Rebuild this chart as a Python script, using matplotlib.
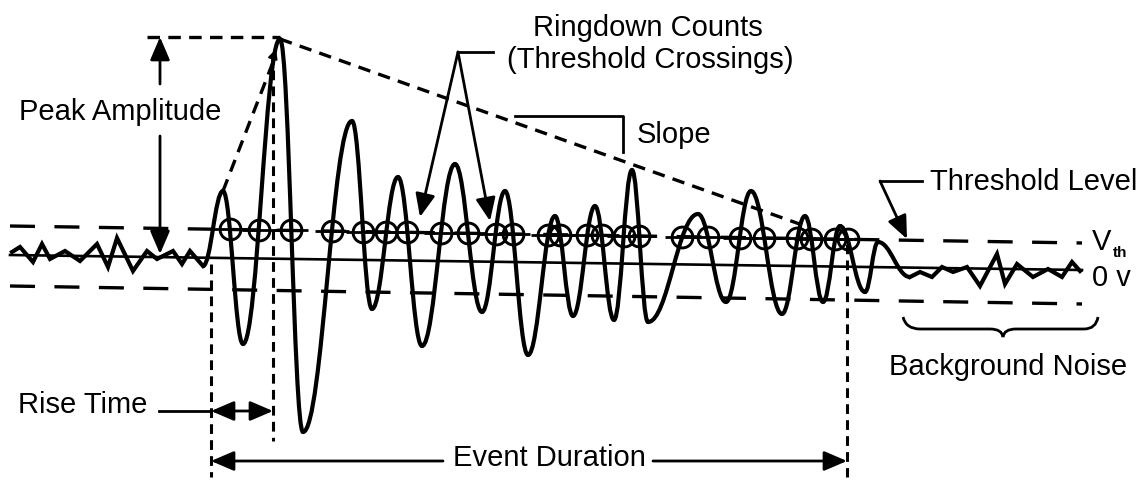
import numpy as np
import matplotlib.pyplot as plt
from matplotlib.path import Path
from matplotlib.patches import PathPatch

plt.rcParams['font.family'] = ['Liberation Sans', 'DejaVu Sans']
plt.rcParams['lines.scale_dashes'] = False

# picture units: time to the right, signal downwards (screen-like)

# background noise before the event (zig-zag)
noise_in_t = [12, 20, 33, 42, 50, 65, 80, 97, 108, 117, 133, 147, 157, 173, 182, 190, 203]
noise_in_v = [253, 248, 263, 245, 260, 252, 262, 245, 268, 239, 272, 252, 260, 252, 265, 252, 267]

# burst: successive peaks and troughs
event_t = [203, 223, 243, 280, 303, 352, 372, 398, 422, 455, 482, 505, 528, 555, 573,
           595, 614, 632, 648, 698, 726, 751, 782, 805, 823, 840, 865, 878, 910]
event_v = [267, 192, 345, 40, 433, 122, 310, 178, 347, 165, 313, 192, 356, 217, 317,
           207, 321, 171, 323, 215, 303, 192, 315, 217, 303, 227, 293, 243, 278]

# background noise after the event
noise_out_t = [910, 920, 932, 942, 953, 967, 980, 997, 1005, 1017, 1033, 1048, 1062, 1072, 1080]
noise_out_v = [278, 273, 278, 268, 273, 268, 287, 255, 285, 265, 278, 270, 278, 263, 272]

# reference levels (left end, right end)
line_t = [10, 1082]
zero_v = [256, 271]
vth_v = [227, 244]
neg_v = [287, 305]

# event markers
t_start = 211
t_peak = 273
t_end = 847
peak_v = 38
slope_end = (808, 228)


def vth_at(t):
    return np.interp(t, line_t, vth_v)


# --- build the burst as cubic curves (flat tangents at each extremum)
k = 0.4
verts = [(event_t[0], event_v[0])]
codes = [Path.MOVETO]
for i in range(len(event_t) - 1):
    t0, v0, t1, v1 = event_t[i], event_v[i], event_t[i + 1], event_v[i + 1]
    dt = t1 - t0
    verts += [(t0 + k * dt, v0), (t1 - k * dt, v1), (t1, v1)]
    codes += [Path.CURVE4] * 3

# threshold crossings on the same curves
cross_t = []
s = np.linspace(0, 1, 600)
for i in range(len(event_t) - 1):
    p0 = np.array(verts[3 * i])
    p1 = np.array(verts[3 * i + 1])
    p2 = np.array(verts[3 * i + 2])
    p3 = np.array(verts[3 * i + 3])
    b = ((1 - s) ** 3)[:, None] * p0 + (3 * (1 - s) ** 2 * s)[:, None] * p1 \
        + (3 * (1 - s) * s ** 2)[:, None] * p2 + (s ** 3)[:, None] * p3
    d = b[:, 1] - vth_at(b[:, 0])
    idx = np.where(np.sign(d[:-1]) != np.sign(d[1:]))[0]
    for j in idx:
        cross_t.append(b[j, 0])
cross_t = np.array(cross_t[1:])   # first rising edge is not counted
cross_v = vth_at(cross_t)

fig = plt.figure(figsize=(11.4, 4.81), dpi=100)
ax = fig.add_axes([0, 0, 1, 1])
ax.set_xlim(0, 1140)
ax.set_ylim(481, 0)
ax.axis('off')

wave_lw = 3.0
ax.plot(noise_in_t, noise_in_v, color='k', lw=wave_lw, solid_joinstyle='miter')
ax.add_patch(PathPatch(Path(verts, codes), fill=False, lw=wave_lw, ec='k'))
ax.plot(noise_out_t, noise_out_v, color='k', lw=wave_lw, solid_joinstyle='miter')

# levels
ax.plot(line_t, zero_v, color='k', lw=1.9)
ax.plot(line_t, vth_v, color='k', lw=2.4, dashes=(18, 14))
ax.plot(line_t, neg_v, color='k', lw=2.4, dashes=(18, 14))

# ringdown counts
ax.plot(cross_t, cross_v, 'o', mfc='none', mec='k', ms=15, mew=2.1)
ax.plot(cross_t, cross_v, '_', color='k', ms=24, mew=2.0)

# dashed construction lines
vd = (7, 4.5)
ax.plot([t_start, t_start], [265, 478], color='k', lw=2.2, dashes=vd)
ax.plot([t_peak, t_peak], [55, 442], color='k', lw=2.2, dashes=vd)
ax.plot([t_end, t_end], [245, 478], color='k', lw=2.2, dashes=vd)
ax.plot([147, event_t[3]], [peak_v, peak_v], color='k', lw=2.4, dashes=(9, 6))
ax.plot([event_t[3], slope_end[0]], [event_v[3], slope_end[1]], color='k', lw=2.4, dashes=(9, 6))
ax.plot([event_t[1], t_peak + 2], [event_v[1], 58], color='k', lw=2.4, dashes=(9, 6))
ax.annotate('', xy=(t_peak + 3, 50), xytext=(t_peak - 1, 62),
            arrowprops=dict(arrowstyle='-|>', color='k', lw=1.5, shrinkA=0, shrinkB=0,
                            mutation_scale=14))

arrow = dict(arrowstyle='-|>,head_length=0.7,head_width=0.3', color='k', lw=2.0,
             shrinkA=0, shrinkB=0, mutation_scale=20)
fs = 21

# peak amplitude
ax.text(120, 112, 'Peak Amplitude', fontsize=fs, ha='center', va='center')
ax.annotate('', xy=(160, peak_v), xytext=(160, 85), arrowprops=arrow)
ax.annotate('', xy=(160, 255), xytext=(160, 137), arrowprops=arrow)

# rise time
ax.text(18, 405, 'Rise Time', fontsize=fs, ha='left', va='center')
ax.plot([159, t_start], [412, 412], color='k', lw=2.0)
ax.annotate('', xy=(t_start, 412), xytext=(t_peak, 412),
            arrowprops=dict(arrow, arrowstyle='<|-|>,head_length=0.7,head_width=0.3'))

# event duration
ax.text(549, 458, 'Event Duration', fontsize=fs, ha='center', va='center')
ax.annotate('', xy=(t_start, 462), xytext=(443, 462), arrowprops=arrow)
ax.annotate('', xy=(t_end, 462), xytext=(653, 462), arrowprops=arrow)

# ringdown counts label
ax.text(648, 28, 'Ringdown Counts', fontsize=fs, ha='center', va='center')
ax.text(650, 60, '(Threshold Crossings)', fontsize=fs, ha='center', va='center')
ax.plot([458, 493], [53, 53], color='k', lw=2.0)
ax.annotate('', xy=(420, 218), xytext=(458, 53), arrowprops=arrow)
ax.annotate('', xy=(490, 222), xytext=(458, 53), arrowprops=arrow)

# slope
ax.plot([515, 623, 623], [117, 117, 153], color='k', lw=2.0)
ax.text(637, 135, 'Slope', fontsize=fs, ha='left', va='center')

# threshold level
ax.text(930, 182, 'Threshold Level', fontsize=fs, ha='left', va='center')
ax.plot([880, 922], [182, 182], color='k', lw=2.0)
ax.annotate('', xy=(907, 240), xytext=(880, 182), arrowprops=arrow)
ax.text(1092, 242, 'V', fontsize=fs, ha='left', va='center')
ax.text(1113, 253, 'th', fontsize=11, ha='left', va='center', fontweight='bold')
ax.text(1092, 278, '0 v', fontsize=fs, ha='left', va='center')

# background noise brace
bv = [(903, 318), (906, 330), (920, 330), (990, 330), (1002, 330), (1003, 338),
      (1004, 330), (1016, 330), (1084, 330), (1096, 330), (1098, 318)]
bc = [Path.MOVETO, Path.CURVE3, Path.CURVE3, Path.LINETO, Path.CURVE3, Path.CURVE3,
      Path.CURVE3, Path.CURVE3, Path.LINETO, Path.CURVE3, Path.CURVE3]
ax.add_patch(PathPatch(Path(bv, bc), fill=False, lw=2.0, ec='k'))
ax.text(1008, 367, 'Background Noise', fontsize=fs, ha='center', va='center')

fig.savefig('out.png', dpi=100)
